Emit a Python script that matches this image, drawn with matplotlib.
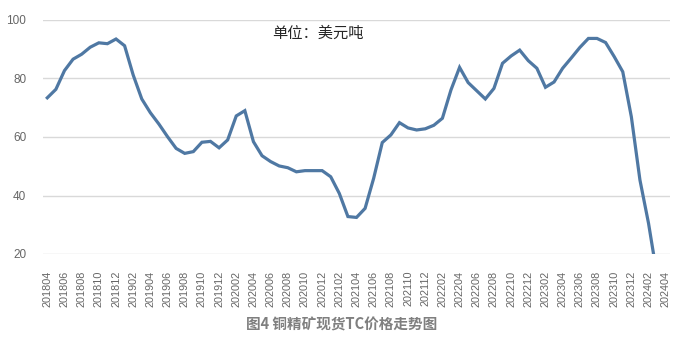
import matplotlib
matplotlib.use("Agg")
import matplotlib.pyplot as plt
import numpy as np

# Monthly categories 201804 .. 202404
years_months = [(2018 + (3 + k) // 12, (3 + k) % 12 + 1) for k in range(73)]
categories = [f"{y}{m:02d}" for y, m in years_months]
tick_labels = categories[::2]

# Spot TC values (USD/t), 201804 .. 202403 (last one below axis minimum)
tc_values = [73.4, 76.3, 82.7, 86.6, 88.3, 90.7, 92.2, 91.9, 93.5, 91.2,
             81.2, 73.0, 68.3, 64.4, 60.1, 56.1, 54.4, 55.0, 58.2, 58.5,
             56.3, 59.0, 67.2, 69.0, 58.4, 53.6, 51.6, 50.1, 49.5, 48.1,
             48.5, 48.5, 48.5, 46.4, 40.7, 32.8, 32.5, 35.6, 45.9, 58.1,
             60.7, 64.9, 63.1, 62.4, 62.8, 64.0, 66.4, 76.1, 83.8, 78.6,
             75.8, 73.0, 76.6, 85.2, 87.7, 89.7, 86.1, 83.5, 77.0, 78.8,
             83.5, 87.0, 90.6, 93.7, 93.7, 92.3, 87.5, 82.3, 66.9, 45.3,
             30.5, 12.5]
y_ticks = [20, 40, 60, 80, 100]

unit_text = "单位：美元吨"
title_text = "图4 铜精矿现货TC价格走势图"

plt.rcParams['font.family'] = ['Liberation Sans', 'Noto Sans CJK SC', 'DejaVu Sans']

fig = plt.figure(figsize=(6.81, 3.38), dpi=100)
ax = fig.add_axes([43/681, 1 - 254/338, (670 - 43)/681, (254 - 20)/338])

x = np.arange(len(tc_values))
ax.plot(x, tc_values, color='#4f78a3', lw=2.3, solid_joinstyle='miter', clip_on=True)

ax.set_ylim(20, 100)
ax.set_xlim(-0.5, len(categories) - 0.5)
ax.set_yticks(y_ticks)
ax.set_yticklabels([str(v) for v in y_ticks])
ax.set_xticks(np.arange(0, len(categories), 2))
ax.set_xticklabels(tick_labels, rotation=90, ha='center', va='top')

ax.yaxis.grid(True, color='#d9d9d9', lw=1.0)
ax.set_axisbelow(True)
for s in ax.spines.values():
    s.set_visible(False)
ax.tick_params(axis='both', length=0)
ax.tick_params(axis='y', pad=12, labelsize=8.5, labelcolor='#666666')
ax.tick_params(axis='x', pad=12, labelsize=7.8, labelcolor='#666666')

fig.text(272/681, 1 - 33/338, unit_text, fontsize=11, color='#262626',
         family=['Noto Sans CJK SC', 'DejaVu Sans'], ha='left', va='center')
fig.text(342/681, 1 - 325/338, title_text, fontsize=10.5, color='#7f7f7f',
         fontweight='bold', family=['Noto Sans CJK SC', 'DejaVu Sans'],
         ha='center', va='center')

fig.savefig('out.png', dpi=100, facecolor='white')
